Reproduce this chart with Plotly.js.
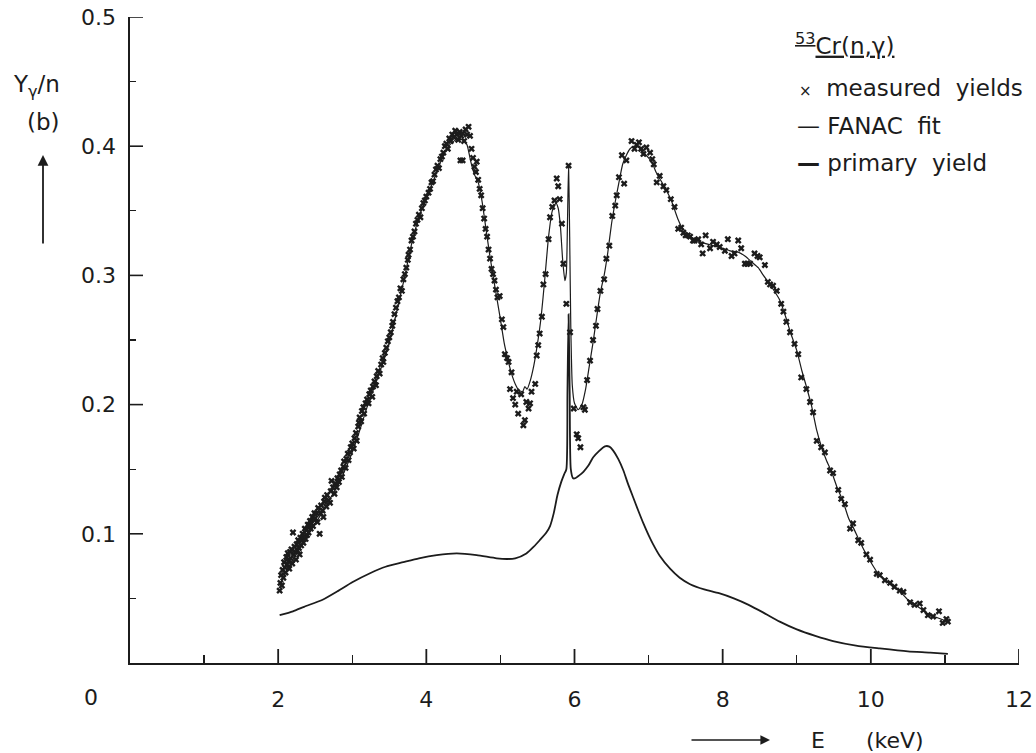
<!DOCTYPE html>
<html>
<head>
<meta charset="utf-8">
<script src="https://cdn.plot.ly/plotly-3.0.1.min.js"></script>
<style>html,body{margin:0;padding:0;background:#fff;}#chart{width:1036px;height:753px;}</style>
</head>
<body>
<div id="chart"></div>
<script>
// ---- measured yields (E in keV, Y in b) ----
const measuredE = [
2.02,2.03,2.04,2.05,2.06,2.07,2.08,2.09,2.10,2.11,2.12,2.13,2.14,2.15,2.16,2.17,2.18,2.19,2.20,2.21,2.22,2.23,2.24,2.25,2.26,2.27,2.28,2.29,2.30,2.31,2.32,2.33,2.34,2.35,2.36,2.37,2.38,2.39,2.40,2.41,2.42,2.43,2.44,2.45,2.46,2.47,2.48,2.49,
2.50,2.52,2.53,2.54,2.56,2.57,2.58,2.60,2.61,2.62,2.63,2.65,2.66,2.68,2.70,2.71,2.72,2.74,2.76,2.77,2.79,2.80,2.82,2.83,2.85,2.86,2.88,2.89,2.91,2.92,2.94,2.95,2.97,2.98,
3.00,3.02,3.03,3.05,3.06,3.08,3.09,3.10,3.12,3.13,3.15,3.16,3.18,3.20,3.22,3.23,3.25,3.27,3.28,3.30,3.32,3.33,3.35,3.37,3.39,3.41,3.42,3.44,3.46,3.48,3.50,
3.52,3.54,3.55,3.57,3.59,3.61,3.63,3.65,3.67,3.69,3.71,3.73,3.75,3.76,3.78,3.80,3.82,3.84,3.86,3.88,3.90,3.92,3.94,3.96,3.98,
4.00,4.03,4.05,4.07,4.09,4.11,4.13,4.15,4.17,4.19,4.21,4.23,4.25,4.27,4.29,4.31,4.33,4.35,4.37,4.39,4.41,4.43,4.45,4.47,4.49,4.51,4.53,4.55,4.57,4.59,4.46,4.49,
4.61,4.63,4.65,4.67,4.68,4.70,4.72,4.74,4.76,4.78,4.80,4.82,4.84,4.86,4.88,4.90,4.92,4.94,4.96,4.99,
5.02,5.04,5.06,5.09,5.11,5.13,5.15,5.17,5.20,5.22,5.24,5.28,5.31,5.33,5.35,5.38,5.40,5.42,5.47,5.49,5.51,5.53,5.56,5.58,
5.61,5.65,5.67,5.70,5.73,5.76,5.78,5.80,5.83,5.85,5.89,5.92,5.94,5.99,6.03,6.05,6.08,
6.12,6.14,6.17,6.21,6.25,6.29,6.31,6.35,6.40,6.43,6.47,6.51,6.55,6.57,6.60,6.64,6.67,6.70,6.77,6.81,6.84,6.87,6.90,6.93,6.97,
7.02,7.05,7.07,7.11,7.15,7.20,7.24,7.30,7.35,7.40,7.44,7.47,7.50,7.53,7.56,7.60,
7.62,7.67,7.71,7.73,7.77,7.83,7.87,7.92,7.96,8.03,8.07,8.12,8.16,8.21,8.25,8.30,8.33,8.37,8.43,8.47,8.50,8.57,8.61,8.64,8.68,8.73,8.79,8.82,8.86,8.91,8.97,9.02,9.06,9.13,
9.18,9.22,9.27,9.33,9.38,9.45,9.49,9.56,9.60,9.65,9.72,9.76,9.83,9.87,9.94,9.99,10.08,10.12,10.19,10.26,10.32,10.39,10.44,10.53,10.59,10.66,10.71,10.77,10.84,10.92,10.97,11.02,11.04
];
const measuredY = [
0.056,0.062,0.068,0.060,0.072,0.066,0.078,0.074,0.070,0.082,0.076,0.085,0.079,0.073,0.086,0.081,0.088,0.077,0.101,0.084,0.090,0.086,0.080,0.092,0.087,0.095,0.089,0.084,0.097,0.091,0.095,0.100,0.093,0.098,0.104,0.096,0.103,0.099,0.107,0.101,0.106,0.110,0.104,0.108,0.113,0.106,0.111,0.116,
0.112,0.116,0.109,0.120,0.100,0.116,0.122,0.118,0.113,0.125,0.128,0.121,0.130,0.126,0.124,0.133,0.141,0.136,0.131,0.139,0.136,0.143,0.140,0.146,0.149,0.144,0.152,0.156,0.151,0.158,0.162,0.157,0.163,0.167,
0.170,0.166,0.174,0.178,0.172,0.183,0.186,0.190,0.187,0.195,0.198,0.193,0.201,0.204,0.201,0.208,0.211,0.206,0.214,0.218,0.215,0.222,0.226,0.224,0.231,0.236,0.233,0.240,0.244,0.249,0.252,
0.256,0.261,0.264,0.270,0.275,0.280,0.283,0.290,0.288,0.297,0.301,0.306,0.312,0.316,0.320,0.327,0.330,0.334,0.340,0.343,0.347,0.345,0.352,0.356,0.358,
0.361,0.364,0.367,0.372,0.373,0.378,0.382,0.385,0.383,0.390,0.392,0.395,0.400,0.402,0.398,0.406,0.404,0.409,0.407,0.412,0.409,0.405,0.411,0.408,0.410,0.404,0.413,0.409,0.415,0.408,0.389,0.389,
0.398,0.391,0.384,0.380,0.388,0.374,0.367,0.362,0.352,0.344,0.336,0.330,0.320,0.313,0.305,0.301,0.296,0.289,0.283,0.284,
0.266,0.260,0.239,0.236,0.233,0.212,0.225,0.205,0.200,0.210,0.193,0.208,0.184,0.188,0.202,0.197,0.201,0.210,0.216,0.238,0.246,0.255,0.268,0.293,
0.301,0.328,0.345,0.353,0.358,0.375,0.369,0.359,0.340,0.309,0.278,0.385,0.256,0.197,0.177,0.174,0.167,
0.198,0.196,0.219,0.234,0.250,0.261,0.274,0.288,0.297,0.313,0.323,0.346,0.354,0.362,0.376,0.393,0.371,0.389,0.404,0.398,0.401,0.403,0.398,0.394,0.399,
0.395,0.390,0.386,0.372,0.377,0.369,0.366,0.359,0.353,0.336,0.337,0.333,0.331,0.331,0.330,0.327,
0.327,0.328,0.324,0.317,0.331,0.321,0.326,0.324,0.322,0.319,0.328,0.315,0.317,0.327,0.321,0.309,0.309,0.309,0.317,0.315,0.314,0.308,0.295,0.293,0.292,0.288,0.278,0.272,0.264,0.256,0.247,0.239,0.221,0.212,
0.202,0.194,0.172,0.167,0.163,0.149,0.147,0.134,0.127,0.123,0.104,0.108,0.095,0.093,0.084,0.080,0.069,0.068,0.064,0.062,0.059,0.056,0.055,0.047,0.045,0.046,0.041,0.037,0.036,0.040,0.031,0.034,0.032
];

// ---- FANAC fit ----
const fitE = [2.02,2.10,2.20,2.30,2.40,2.50,2.60,2.70,2.80,2.90,3.00,3.10,3.20,3.30,3.40,3.50,3.60,3.70,3.80,3.90,4.00,4.10,4.20,4.30,4.40,4.50,4.55,4.60,4.65,4.70,4.75,4.80,4.85,4.90,4.95,5.00,5.05,5.10,5.15,5.20,5.25,5.30,5.33,5.36,5.40,5.45,5.50,5.55,5.60,5.65,5.70,5.75,5.78,5.81,5.84,5.87,5.89,5.905,5.92,5.935,5.95,5.97,6.00,6.05,6.10,6.15,6.20,6.25,6.30,6.35,6.40,6.45,6.50,6.55,6.60,6.65,6.70,6.75,6.80,6.85,6.90,6.95,7.00,7.05,7.10,7.20,7.30,7.35,7.40,7.45,7.55,7.65,7.75,7.87,8.00,8.10,8.21,8.30,8.40,8.48,8.55,8.65,8.77,8.85,8.92,9.00,9.07,9.13,9.20,9.27,9.33,9.40,9.47,9.55,9.62,9.70,9.77,9.85,9.93,10.00,10.10,10.20,10.30,10.40,10.50,10.60,10.70,10.80,10.90,11.04];
const fitY = [0.060,0.070,0.080,0.090,0.099,0.108,0.117,0.127,0.137,0.149,0.163,0.180,0.198,0.214,0.230,0.248,0.272,0.297,0.324,0.345,0.360,0.374,0.389,0.400,0.405,0.405,0.401,0.388,0.378,0.372,0.358,0.338,0.318,0.300,0.283,0.266,0.248,0.235,0.224,0.216,0.211,0.210,0.214,0.212,0.218,0.230,0.247,0.268,0.298,0.330,0.350,0.356,0.352,0.338,0.312,0.296,0.302,0.340,0.386,0.330,0.260,0.215,0.201,0.196,0.200,0.212,0.230,0.248,0.268,0.287,0.300,0.318,0.340,0.357,0.372,0.386,0.393,0.398,0.400,0.400,0.397,0.394,0.391,0.387,0.380,0.370,0.359,0.351,0.343,0.337,0.331,0.327,0.325,0.323,0.321,0.319,0.318,0.315,0.310,0.306,0.300,0.292,0.281,0.268,0.255,0.242,0.226,0.214,0.199,0.180,0.168,0.157,0.148,0.135,0.126,0.112,0.104,0.094,0.085,0.078,0.069,0.064,0.059,0.055,0.049,0.045,0.041,0.037,0.035,0.032];

// ---- primary yield ----
const primE = [2.02,2.20,2.35,2.60,2.80,3.00,3.24,3.45,3.69,3.90,4.14,4.41,4.68,4.95,5.10,5.20,5.35,5.45,5.53,5.62,5.67,5.72,5.77,5.82,5.86,5.89,5.905,5.92,5.935,5.95,5.98,6.01,6.06,6.12,6.19,6.25,6.33,6.41,6.47,6.52,6.59,6.66,6.72,6.79,6.86,6.93,7.00,7.06,7.15,7.29,7.42,7.56,7.75,7.95,8.15,8.35,8.55,8.77,9.00,9.25,9.49,9.80,10.12,10.50,10.80,11.04];
const primY = [0.037,0.040,0.0435,0.049,0.0555,0.0625,0.0695,0.0745,0.078,0.081,0.0835,0.0848,0.0835,0.081,0.0805,0.081,0.0848,0.090,0.095,0.101,0.106,0.116,0.130,0.140,0.146,0.150,0.210,0.270,0.210,0.150,0.143,0.143,0.145,0.148,0.153,0.159,0.164,0.1677,0.1675,0.1646,0.158,0.149,0.139,0.1285,0.118,0.108,0.099,0.092,0.083,0.073,0.066,0.061,0.057,0.054,0.050,0.045,0.039,0.032,0.026,0.021,0.017,0.0135,0.0113,0.009,0.008,0.007];

// ---- tick values and labels ----
const xTickVals = [2,4,6,8,10,12];
const xTickText = ['2','4','6','8','10','12'];
const xMinorVals = [1,3,5,7,9,11];
const yTickVals = [0.1,0.2,0.3,0.4,0.5];
const yTickText = ['0.1','0.2','0.3','0.4','0.5'];
const yMinorVals = [0.05,0.15,0.25,0.35,0.45];

const INK = '#1c1c1c';
const FONT = 'DejaVu Sans, sans-serif';

const traces = [
  {x: primE, y: primY, type: 'scatter', mode: 'lines', line: {color: INK, width: 1.8, shape: 'spline', smoothing: 0.6}, hoverinfo: 'skip', showlegend: false},
  {x: fitE, y: fitY, type: 'scatter', mode: 'lines', line: {color: INK, width: 1.2, shape: 'spline', smoothing: 0.5}, hoverinfo: 'skip', showlegend: false},
  {x: measuredE, y: measuredY, type: 'scatter', mode: 'markers', marker: {symbol: 'x', size: 6, color: INK, line: {width: 0}}, hoverinfo: 'skip', showlegend: false},
  {x: [], y: [], xaxis: 'x2', yaxis: 'y2', type: 'scatter', mode: 'markers', hoverinfo: 'skip', showlegend: false}
];

const W = 889, H = 646, L = 130, T = 17;
function px(x){ return (x - L) / W; }
function py(y){ return (T + H - y) / H; }

function tickAxis(over, anchor, side, range, vals, len, width){
  return {
    overlaying: over, anchor: anchor, side: side, range: range,
    showgrid: false, zeroline: false, showline: false, showticklabels: false,
    tickmode: 'array', tickvals: vals.slice(),
    ticks: 'inside', ticklen: len, tickwidth: width, tickcolor: INK
  };
}

// major tick marks, placed through the axes' own scales (pixel length)
const tickShapes = [].concat(
  xTickVals.map(v => ({type: 'line', layer: 'above', xref: 'x', yref: 'paper', x0: v, x1: v,
    ysizemode: 'pixel', yanchor: 0, y0: 0, y1: 14, line: {color: INK, width: 1.8}})),
  yTickVals.map(v => ({type: 'line', layer: 'above', xref: 'paper', yref: 'y', y0: v, y1: v,
    xsizemode: 'pixel', xanchor: 0, x0: 0, x1: 13, line: {color: INK, width: 1.6}}))
);

const layout = {
  width: 1036, height: 753,
  margin: {l: L, r: 1036 - L - W, t: T, b: 753 - T - H},
  paper_bgcolor: '#fff', plot_bgcolor: 'rgba(0,0,0,0)',
  font: {family: FONT, color: INK, size: 22},
  showlegend: false,
  xaxis: {
    range: [0, 12], showgrid: false, zeroline: false,
    showline: true, linecolor: INK, linewidth: 1.6,
    tickmode: 'array', tickvals: xTickVals, ticktext: xTickText,
    ticks: '', tickfont: {family: FONT, size: 22, color: INK},
    ticklabelstandoff: 16
  },
  yaxis: {
    range: [0, 0.5], showgrid: false, zeroline: false,
    showline: true, linecolor: INK, linewidth: 1.6,
    tickmode: 'array', tickvals: yTickVals, ticktext: yTickText,
    ticks: '', tickfont: {family: FONT, size: 22, color: INK},
    ticklabelstandoff: 8
  },
  xaxis2: tickAxis('x', 'y2', 'bottom', [0, 12], xMinorVals, 8, 1.3),
  yaxis2: tickAxis('y', 'x2', 'left', [0, 0.5], yMinorVals, 6, 1.1),
  shapes: tickShapes,
  annotations: [
    {xref: 'paper', yref: 'paper', x: px(91), y: py(697), text: '0', showarrow: false, xanchor: 'center', yanchor: 'middle', font: {size: 22}},
    {xref: 'paper', yref: 'paper', x: px(11), y: py(86), text: 'Y<sub>γ</sub>/n', showarrow: false, xanchor: 'left', yanchor: 'middle', font: {size: 23}},
    {xref: 'paper', yref: 'paper', x: px(25), y: py(122), text: '(b)', showarrow: false, xanchor: 'left', yanchor: 'middle', font: {size: 23}},
    {xref: 'paper', yref: 'paper', x: px(43), y: py(155), ax: 0, ay: 90, text: '', showarrow: true, arrowhead: 2, arrowsize: 1.2, arrowwidth: 1.8, arrowcolor: INK},
    {xref: 'paper', yref: 'paper', x: px(770), y: py(740), ax: -80, ay: 0, text: '', showarrow: true, arrowhead: 2, arrowsize: 1.2, arrowwidth: 1.6, arrowcolor: INK},
    {xref: 'paper', yref: 'paper', x: px(818), y: py(740), text: 'E', showarrow: false, xanchor: 'center', yanchor: 'middle', font: {size: 22}},
    {xref: 'paper', yref: 'paper', x: px(895), y: py(740), text: '(keV)', showarrow: false, xanchor: 'center', yanchor: 'middle', font: {size: 22}},
    {xref: 'paper', yref: 'paper', x: px(793), y: py(44), text: '<u><sup>53</sup>Cr(n,γ)</u>', showarrow: false, xanchor: 'left', yanchor: 'middle', font: {size: 23}},
    {xref: 'paper', yref: 'paper', x: px(797), y: py(88), text: '<span style="font-size:15px">×</span>  measured  yields', showarrow: false, xanchor: 'left', yanchor: 'middle', font: {size: 23}},
    {xref: 'paper', yref: 'paper', x: px(795), y: py(126), text: '— FANAC  fit', showarrow: false, xanchor: 'left', yanchor: 'middle', font: {size: 23}},
    {xref: 'paper', yref: 'paper', x: px(795), y: py(163), text: '<b>—</b> primary  yield', showarrow: false, xanchor: 'left', yanchor: 'middle', font: {size: 23}}
  ]
};

Plotly.newPlot('chart', traces, layout, {displayModeBar: false, staticPlot: true});
</script>
</body>
</html>
